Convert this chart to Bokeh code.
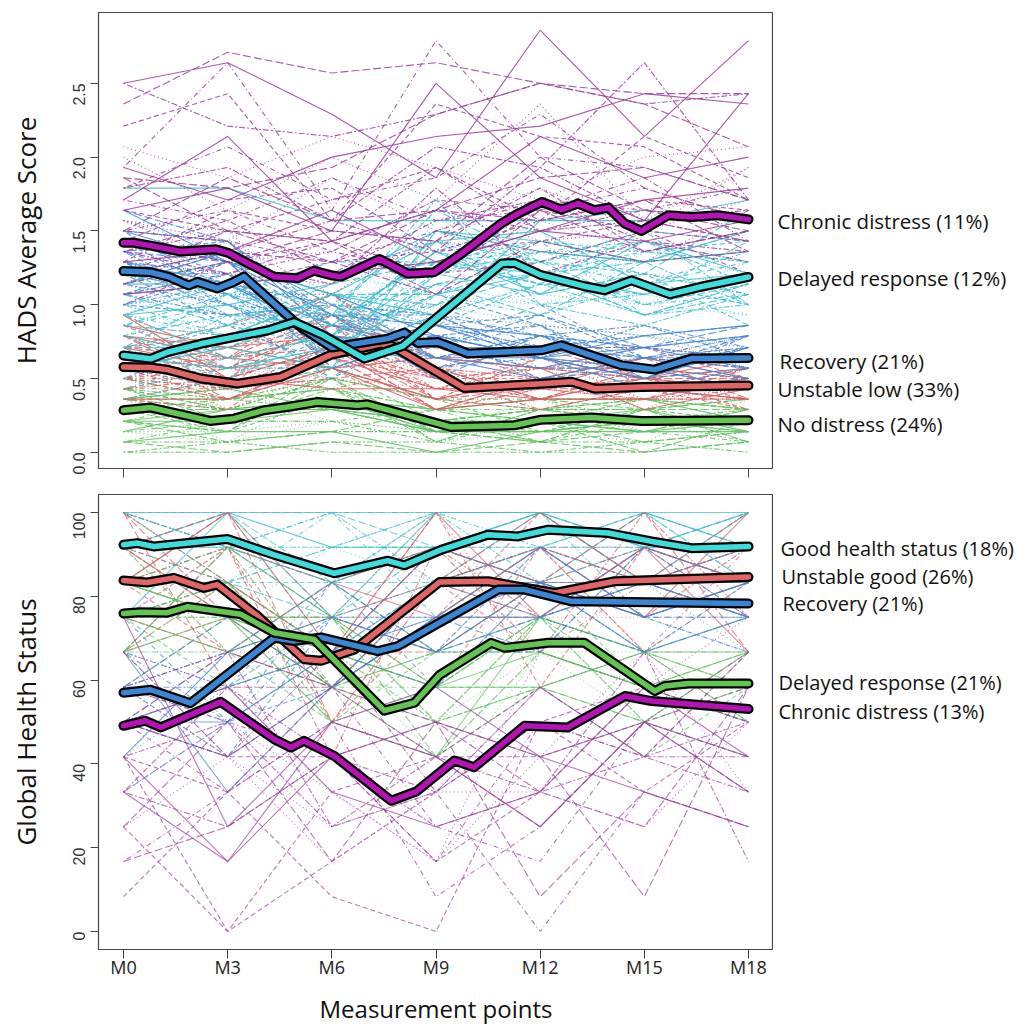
import math
from bokeh.plotting import figure
from bokeh.models import Range1d, FixedTicker, PrintfTickFormatter
from bokeh.layouts import column, row
from bokeh.core.properties import value
from bokeh.embed import file_html
from bokeh.resources import INLINE

# ---------------- data ----------------
months = [0, 3, 6, 9, 12, 15, 18]
month_labels = ["M0", "M3", "M6", "M9", "M12", "M15", "M18"]

hads_ticks = [0.0, 0.5, 1.0, 1.5, 2.0, 2.5]
ghs_ticks = [0, 20, 40, 60, 80, 100]

# HADS individual trajectories (values at M0..M18) by trajectory group
hads_chronic_ind = [
    [2.36, 2.71, 2.57, 2.64, 2.50, 2.43, 2.43],
    [2.50, 2.21, 2.14, 2.29, 2.50, 2.36, 2.43],
    [2.50, 2.64, 2.29, 1.86, 2.86, 2.14, 2.79],
    [2.21, 2.43, 1.57, 2.36, 2.14, 2.07, 1.71],
    [2.00, 1.64, 2.00, 1.71, 2.36, 1.57, 1.93],
    [1.93, 2.64, 1.64, 2.79, 2.00, 1.93, 1.71],
    [1.86, 1.79, 1.93, 2.29, 2.50, 2.36, 2.07],
    [1.79, 1.93, 1.57, 2.07, 1.93, 2.64, 1.71],
    [1.71, 2.14, 1.43, 1.64, 2.14, 1.86, 2.00],
    [1.64, 1.50, 1.71, 1.93, 1.57, 1.71, 1.64],
    [1.57, 1.43, 1.86, 1.50, 1.79, 1.50, 1.93],
    [1.50, 1.64, 1.36, 1.71, 1.64, 1.79, 1.57],
    [1.43, 1.29, 1.50, 1.43, 2.00, 1.64, 1.50],
    [1.36, 1.57, 1.21, 1.57, 1.71, 1.43, 1.36],
    [1.29, 1.36, 1.64, 1.29, 1.50, 1.71, 1.79],
    [1.21, 1.14, 1.29, 1.36, 1.43, 1.57, 1.43],
    [1.14, 1.43, 1.07, 1.50, 1.36, 1.29, 1.64],
    [1.07, 1.21, 1.36, 1.21, 1.29, 1.50, 1.21],
    [1.86, 1.50, 1.43, 1.07, 1.64, 1.36, 1.50],
    [1.00, 1.29, 1.14, 1.79, 1.21, 1.43, 1.29],
    [1.64, 1.79, 1.50, 2.50, 1.86, 1.57, 2.43],
    [1.43, 1.71, 1.79, 1.36, 1.57, 2.14, 1.86],
    [2.07, 1.86, 2.14, 1.93, 1.71, 2.00, 2.07],
    [1.79, 2.07, 1.71, 1.86, 2.29, 1.79, 1.57],
    [1.50, 1.86, 1.57, 1.64, 1.86, 1.93, 1.71],
    [1.36, 1.50, 1.43, 1.93, 1.50, 1.64, 1.57],
    [1.93, 1.71, 2.00, 2.14, 2.21, 2.43, 2.36],
    [1.29, 1.64, 1.50, 1.43, 1.79, 1.36, 1.50],
    [1.57, 1.29, 1.36, 1.71, 1.43, 1.50, 1.71],
    [1.71, 1.57, 1.86, 1.57, 1.64, 1.86, 1.43],
    [1.21, 1.50, 1.29, 1.64, 1.57, 1.71, 1.36],
    [1.43, 1.36, 1.57, 1.36, 1.93, 1.57, 1.64],
    [1.07, 1.14, 1.21, 1.29, 1.50, 1.43, 1.57],
    [1.14, 1.29, 1.43, 1.21, 1.64, 1.50, 1.43],
    [1.29, 1.21, 1.14, 1.43, 1.36, 1.36, 1.50],
    [1.50, 1.43, 1.29, 1.50, 1.71, 1.64, 1.79],
    [1.21, 1.36, 1.29, 1.07, 1.43, 1.29, 1.36],
    [1.36, 1.21, 1.43, 1.64, 1.50, 1.57, 1.43],
]
hads_delayed_ind = [
    [1.79, 1.79, 1.57, 1.57, 1.57, 1.57, 1.71],
    [0.71, 0.86, 0.93, 1.29, 1.43, 1.36, 1.29],
    [0.57, 0.43, 0.64, 1.14, 1.00, 1.21, 1.14],
    [0.86, 1.00, 0.79, 1.43, 1.29, 1.14, 1.36],
    [0.50, 0.79, 1.07, 1.00, 1.21, 0.93, 1.07],
    [0.79, 0.57, 0.57, 1.21, 1.36, 1.29, 1.00],
    [0.93, 1.14, 0.86, 1.36, 1.07, 1.43, 1.21],
    [0.64, 0.71, 1.00, 0.86, 1.14, 1.07, 1.43],
    [1.00, 0.93, 0.71, 1.57, 1.50, 1.00, 0.93],
    [0.43, 0.64, 0.50, 1.07, 0.93, 1.14, 1.29],
    [1.07, 0.86, 1.14, 1.29, 1.21, 1.29, 1.50],
    [0.71, 1.07, 0.93, 1.71, 1.00, 0.86, 1.07],
    [1.14, 1.29, 1.07, 0.93, 1.57, 1.64, 1.57],
    [0.36, 0.50, 0.79, 1.14, 1.29, 1.21, 0.86],
    [0.86, 0.64, 0.43, 1.00, 0.86, 1.36, 1.21],
    [0.93, 0.79, 0.64, 1.21, 1.43, 0.93, 1.14],
    [1.29, 1.14, 1.21, 1.43, 1.07, 1.21, 1.64],
    [0.57, 0.93, 0.86, 1.36, 1.14, 1.50, 1.00],
    [0.64, 0.57, 0.71, 1.07, 1.21, 1.07, 1.21],
    [0.79, 0.93, 1.00, 1.50, 1.29, 1.43, 1.14],
    [0.50, 0.64, 0.57, 1.21, 1.07, 1.00, 1.29],
    [1.00, 0.79, 0.86, 1.29, 1.36, 1.21, 1.07],
    [0.71, 0.71, 0.93, 1.14, 0.93, 1.29, 1.36],
    [0.86, 1.07, 0.64, 0.93, 1.14, 0.93, 1.00],
    [0.57, 0.79, 1.07, 1.43, 1.50, 1.14, 1.21],
    [1.21, 1.00, 0.79, 1.36, 1.21, 1.36, 1.43],
    [0.93, 0.86, 1.21, 1.07, 1.00, 1.07, 0.93],
    [0.43, 0.57, 0.71, 1.00, 1.36, 1.43, 1.29],
    [1.07, 1.21, 0.93, 1.64, 1.29, 1.00, 1.14],
    [0.79, 0.64, 0.79, 1.21, 1.07, 1.21, 1.07],
    [0.93, 1.00, 1.14, 1.50, 1.43, 1.29, 1.36],
    [0.64, 0.86, 0.71, 1.29, 1.14, 1.14, 1.00],
    [1.14, 0.93, 1.00, 1.21, 1.57, 1.36, 1.29],
    [0.71, 0.50, 0.86, 1.36, 1.00, 1.07, 1.21],
    [0.86, 0.79, 1.07, 1.07, 1.29, 1.50, 1.43],
    [1.00, 1.14, 0.71, 1.14, 1.21, 0.93, 1.14],
    [0.57, 0.71, 0.57, 1.50, 1.36, 1.29, 1.50],
    [1.21, 1.07, 1.29, 1.29, 1.14, 1.14, 1.00],
    [0.79, 1.00, 0.93, 1.00, 1.07, 1.36, 1.29],
    [0.93, 0.64, 0.79, 1.43, 1.21, 1.00, 1.07],
]
hads_recovery_ind = [
    [1.64, 1.29, 0.71, 0.86, 0.64, 0.50, 0.71],
    [1.36, 1.43, 0.86, 0.64, 0.79, 0.71, 0.57],
    [1.07, 1.14, 0.64, 0.93, 0.57, 0.64, 0.79],
    [1.29, 1.00, 0.93, 0.71, 0.86, 0.43, 0.50],
    [1.21, 1.21, 0.57, 0.79, 0.50, 0.57, 0.64],
    [1.43, 1.07, 0.79, 0.57, 0.71, 0.79, 0.86],
    [1.14, 1.36, 1.00, 0.64, 0.64, 0.57, 0.43],
    [1.00, 0.93, 0.50, 0.86, 0.93, 0.64, 0.57],
    [1.57, 1.50, 0.86, 0.71, 0.57, 0.50, 0.71],
    [1.29, 1.21, 0.71, 0.79, 0.71, 0.71, 0.64],
    [1.07, 1.29, 0.93, 0.50, 0.79, 0.57, 0.79],
    [1.36, 1.00, 0.64, 0.93, 0.64, 0.43, 0.57],
    [1.14, 1.14, 0.79, 0.64, 0.50, 0.64, 0.50],
    [1.21, 0.86, 0.57, 0.79, 0.86, 0.50, 0.71],
    [0.93, 1.21, 0.86, 0.71, 0.57, 0.71, 0.64],
    [1.50, 1.07, 0.71, 0.57, 0.79, 0.57, 0.50],
    [1.43, 1.29, 0.93, 0.86, 0.71, 0.64, 0.64],
    [1.14, 1.00, 0.71, 0.64, 0.79, 0.50, 0.57],
    [1.29, 1.14, 0.86, 0.79, 0.64, 0.71, 0.79],
    [1.00, 1.21, 0.64, 0.71, 0.57, 0.57, 0.71],
    [1.57, 1.36, 1.00, 0.93, 0.86, 0.79, 0.64],
    [1.21, 1.07, 0.79, 0.57, 0.64, 0.43, 0.50],
    [1.36, 1.29, 0.71, 0.86, 0.79, 0.64, 0.71],
    [1.07, 0.93, 0.93, 0.64, 0.57, 0.71, 0.57],
    [1.50, 1.43, 0.79, 0.71, 0.71, 0.57, 0.64],
    [1.14, 1.36, 0.57, 0.79, 0.64, 0.50, 0.79],
    [1.29, 1.07, 1.07, 0.79, 0.86, 0.79, 0.71],
    [1.43, 1.21, 0.86, 1.00, 0.71, 0.64, 0.57],
    [1.07, 1.14, 1.00, 0.71, 0.93, 0.71, 0.79],
    [1.21, 1.36, 0.93, 0.93, 0.79, 0.86, 0.64],
    [1.50, 1.29, 1.07, 0.79, 0.64, 0.79, 0.86],
    [1.36, 1.14, 0.79, 1.07, 0.86, 0.57, 0.71],
    [1.00, 1.07, 1.07, 0.86, 0.71, 0.79, 0.57],
    [1.14, 1.29, 0.86, 0.71, 1.00, 0.64, 0.79],
    [1.64, 1.43, 0.93, 0.86, 0.79, 0.71, 0.86],
    [1.29, 0.93, 1.00, 0.93, 0.64, 0.86, 0.71],
]
hads_unstable_ind = [
    [0.79, 0.64, 0.57, 0.36, 0.50, 0.43, 0.36],
    [0.57, 0.43, 0.71, 0.50, 0.36, 0.57, 0.50],
    [0.64, 0.50, 0.86, 0.43, 0.57, 0.36, 0.43],
    [0.50, 0.57, 0.43, 0.57, 0.43, 0.50, 0.57],
    [0.71, 0.36, 0.64, 0.29, 0.50, 0.64, 0.36],
    [0.43, 0.50, 0.93, 0.50, 0.29, 0.43, 0.50],
    [0.86, 0.71, 0.57, 0.64, 0.57, 0.29, 0.43],
    [0.36, 0.29, 0.79, 0.36, 0.64, 0.50, 0.29],
    [0.64, 0.57, 0.50, 0.43, 0.43, 0.57, 0.64],
    [0.50, 0.43, 1.00, 0.57, 0.36, 0.36, 0.57],
    [0.71, 0.64, 0.71, 0.29, 0.50, 0.43, 0.36],
    [0.57, 0.36, 0.64, 0.50, 0.57, 0.50, 0.43],
    [0.93, 0.50, 0.43, 0.43, 0.43, 0.64, 0.50],
    [0.43, 0.57, 0.86, 0.36, 0.29, 0.43, 0.29],
    [0.64, 0.29, 0.57, 0.64, 0.50, 0.29, 0.57],
    [0.50, 0.64, 0.79, 0.43, 0.64, 0.57, 0.43],
    [0.79, 0.43, 0.50, 0.57, 0.36, 0.50, 0.50],
    [0.36, 0.50, 0.71, 0.29, 0.43, 0.36, 0.36],
    [0.71, 0.57, 0.64, 0.43, 0.36, 0.50, 0.43],
    [0.50, 0.36, 0.57, 0.36, 0.50, 0.43, 0.50],
    [0.64, 0.64, 0.79, 0.50, 0.43, 0.36, 0.36],
    [0.43, 0.43, 0.64, 0.43, 0.57, 0.50, 0.43],
    [0.79, 0.50, 0.71, 0.36, 0.43, 0.43, 0.57],
    [0.57, 0.71, 0.93, 0.57, 0.36, 0.57, 0.43],
    [0.36, 0.36, 0.57, 0.29, 0.36, 0.36, 0.50],
    [0.86, 0.57, 0.86, 0.50, 0.50, 0.43, 0.36],
    [0.64, 0.43, 0.50, 0.36, 0.64, 0.36, 0.43],
    [0.50, 0.50, 0.71, 0.43, 0.43, 0.50, 0.36],
    [0.71, 0.79, 0.86, 0.64, 0.57, 0.57, 0.50],
    [0.57, 0.64, 1.07, 0.57, 0.50, 0.64, 0.57],
    [0.79, 0.71, 0.79, 0.71, 0.64, 0.50, 0.64],
    [0.64, 0.57, 0.93, 0.64, 0.71, 0.71, 0.50],
    [0.86, 0.79, 0.71, 0.50, 0.57, 0.64, 0.71],
    [0.50, 0.71, 0.86, 0.71, 0.50, 0.57, 0.64],
    [0.93, 0.64, 0.93, 0.57, 0.71, 0.50, 0.57],
    [0.71, 0.86, 1.07, 0.64, 0.57, 0.71, 0.64],
]
hads_nodistress_ind = [
    [0.29, 0.21, 0.36, 0.14, 0.21, 0.21, 0.14],
    [0.43, 0.29, 0.29, 0.21, 0.14, 0.29, 0.21],
    [0.14, 0.07, 0.43, 0.07, 0.29, 0.14, 0.29],
    [0.36, 0.21, 0.21, 0.29, 0.07, 0.21, 0.21],
    [0.21, 0.14, 0.50, 0.14, 0.21, 0.07, 0.14],
    [0.50, 0.36, 0.29, 0.21, 0.29, 0.29, 0.07],
    [0.07, 0.14, 0.14, 0.00, 0.14, 0.14, 0.21],
    [0.29, 0.29, 0.36, 0.29, 0.21, 0.36, 0.29],
    [0.36, 0.07, 0.21, 0.14, 0.14, 0.07, 0.36],
    [0.21, 0.36, 0.43, 0.07, 0.29, 0.21, 0.07],
    [0.43, 0.21, 0.36, 0.21, 0.07, 0.29, 0.29],
    [0.00, 0.00, 0.07, 0.07, 0.00, 0.07, 0.00],
    [0.14, 0.29, 0.29, 0.14, 0.21, 0.14, 0.14],
    [0.29, 0.14, 0.57, 0.36, 0.14, 0.21, 0.21],
    [0.50, 0.43, 0.21, 0.14, 0.36, 0.14, 0.14],
    [0.07, 0.21, 0.36, 0.21, 0.07, 0.29, 0.07],
    [0.21, 0.07, 0.14, 0.29, 0.21, 0.00, 0.21],
    [0.36, 0.29, 0.50, 0.07, 0.29, 0.36, 0.29],
    [0.21, 0.21, 0.29, 0.14, 0.14, 0.21, 0.21],
    [0.36, 0.36, 0.43, 0.21, 0.21, 0.14, 0.29],
    [0.14, 0.14, 0.21, 0.07, 0.14, 0.21, 0.14],
    [0.43, 0.29, 0.36, 0.29, 0.29, 0.21, 0.21],
    [0.29, 0.21, 0.43, 0.14, 0.07, 0.14, 0.29],
    [0.07, 0.07, 0.14, 0.14, 0.07, 0.07, 0.14],
    [0.36, 0.43, 0.29, 0.21, 0.21, 0.29, 0.14],
    [0.21, 0.14, 0.36, 0.21, 0.29, 0.21, 0.21],
    [0.50, 0.29, 0.50, 0.14, 0.14, 0.21, 0.29],
    [0.14, 0.21, 0.21, 0.07, 0.21, 0.14, 0.07],
    [0.29, 0.36, 0.43, 0.29, 0.36, 0.29, 0.36],
    [0.43, 0.36, 0.50, 0.36, 0.29, 0.36, 0.29],
    [0.21, 0.29, 0.36, 0.29, 0.36, 0.36, 0.21],
    [0.36, 0.43, 0.57, 0.21, 0.29, 0.29, 0.36],
    [0.50, 0.43, 0.43, 0.29, 0.21, 0.36, 0.36],
    [0.29, 0.29, 0.50, 0.36, 0.36, 0.21, 0.29],
    [0.07, 0.00, 0.07, 0.00, 0.07, 0.00, 0.07],
    [0.00, 0.07, 0.00, 0.00, 0.00, 0.00, 0.07],
]

# HADS group mean trajectories (month, value)
hads_chronic_m = [0, 0.3, 0.78, 1.65, 2.66, 3.03, 3.67, 4.33, 5.02, 5.48, 5.97, 6.26, 7.37, 8.19, 8.95, 9.73, 10.88, 11.36, 12.05, 12.61, 13.09, 13.57, 13.96, 14.44, 14.92, 15.69, 16.36, 17.13, 18]
hads_chronic_v = [1.42, 1.42, 1.40, 1.36, 1.375, 1.35, 1.27, 1.19, 1.18, 1.23, 1.20, 1.19, 1.31, 1.21, 1.22, 1.345, 1.55, 1.617, 1.696, 1.644, 1.685, 1.64, 1.658, 1.549, 1.50, 1.606, 1.594, 1.606, 1.578]
hads_delayed_m = [0, 0.78, 1.26, 2.22, 3.18, 4.14, 4.91, 5.69, 6.94, 8.04, 10.9, 11.26, 12.03, 13.28, 13.86, 14.63, 15.74, 16.6, 18]
hads_delayed_v = [0.656, 0.633, 0.678, 0.735, 0.78, 0.825, 0.882, 0.80, 0.635, 0.72, 1.28, 1.283, 1.20, 1.125, 1.098, 1.165, 1.07, 1.12, 1.188]
hads_recovery_m = [0, 0.78, 1.31, 1.88, 2.13, 2.7, 3.18, 3.47, 4.34, 5.1, 6.0, 7.61, 8.09, 8.48, 9.05, 9.92, 12.03, 12.61, 14.34, 15.3, 16.36, 18]
hads_recovery_v = [1.228, 1.22, 1.188, 1.13, 1.155, 1.11, 1.155, 1.19, 1.007, 0.849, 0.71, 0.77, 0.811, 0.741, 0.747, 0.669, 0.691, 0.725, 0.589, 0.56, 0.635, 0.639]
hads_unstable_m = [0, 0.78, 1.26, 2.22, 3.28, 4.53, 5.97, 7.42, 7.7, 9.82, 12.03, 12.9, 13.57, 14.92, 18]
hads_unstable_v = [0.578, 0.574, 0.56, 0.50, 0.465, 0.51, 0.66, 0.735, 0.725, 0.435, 0.465, 0.478, 0.431, 0.442, 0.452]
hads_nodistress_m = [0, 0.78, 2.5, 3.18, 4.05, 4.72, 5.59, 6.74, 7.03, 9.44, 11.26, 12.03, 13.48, 14.92, 18]
hads_nodistress_v = [0.285, 0.303, 0.212, 0.228, 0.285, 0.307, 0.341, 0.318, 0.325, 0.171, 0.183, 0.221, 0.235, 0.212, 0.217]

# GHS individual trajectories
ghs_good_ind = [
    [100, 100, 100, 100, 100, 100, 100],
    [100, 91.7, 83.3, 91.7, 100, 91.7, 100],
    [91.7, 100, 91.7, 83.3, 91.7, 100, 91.7],
    [83.3, 91.7, 100, 100, 91.7, 83.3, 91.7],
    [100, 83.3, 75, 91.7, 100, 100, 83.3],
    [91.7, 91.7, 83.3, 100, 83.3, 91.7, 100],
    [75, 100, 91.7, 91.7, 100, 83.3, 83.3],
    [100, 100, 66.7, 83.3, 91.7, 100, 91.7],
    [83.3, 75, 91.7, 100, 100, 91.7, 75],
    [91.7, 83.3, 100, 75, 91.7, 91.7, 100],
    [66.7, 91.7, 83.3, 91.7, 83.3, 100, 91.7],
    [100, 91.7, 91.7, 100, 100, 75, 83.3],
    [91.7, 100, 75, 83.3, 100, 91.7, 91.7],
    [83.3, 83.3, 83.3, 91.7, 91.7, 83.3, 100],
    [100, 100, 91.7, 100, 91.7, 100, 100],
    [91.7, 83.3, 91.7, 91.7, 100, 91.7, 83.3],
    [83.3, 100, 83.3, 83.3, 91.7, 91.7, 91.7],
    [100, 91.7, 100, 83.3, 83.3, 100, 91.7],
    [91.7, 91.7, 75, 100, 100, 83.3, 100],
    [75, 83.3, 91.7, 91.7, 91.7, 100, 83.3],
    [100, 91.7, 91.7, 91.7, 100, 100, 91.7],
    [83.3, 91.7, 83.3, 100, 100, 91.7, 91.7],
    [91.7, 100, 100, 91.7, 83.3, 91.7, 100],
]
ghs_unstable_ind = [
    [100, 83.3, 58.3, 83.3, 75, 91.7, 83.3],
    [83.3, 100, 66.7, 91.7, 83.3, 75, 100],
    [75, 91.7, 50, 75, 100, 83.3, 75],
    [91.7, 66.7, 75, 100, 66.7, 91.7, 83.3],
    [66.7, 83.3, 58.3, 83.3, 91.7, 66.7, 91.7],
    [100, 75, 66.7, 66.7, 83.3, 100, 66.7],
    [83.3, 91.7, 41.7, 91.7, 75, 83.3, 91.7],
    [75, 66.7, 83.3, 75, 91.7, 75, 83.3],
    [91.7, 83.3, 66.7, 100, 58.3, 91.7, 75],
    [58.3, 75, 50, 83.3, 83.3, 83.3, 100],
    [83.3, 100, 75, 58.3, 91.7, 66.7, 83.3],
    [100, 58.3, 58.3, 83.3, 100, 83.3, 91.7],
    [66.7, 91.7, 83.3, 91.7, 66.7, 100, 75],
    [91.7, 75, 58.3, 75, 75, 91.7, 66.7],
    [83.3, 66.7, 58.3, 75, 91.7, 83.3, 83.3],
    [100, 91.7, 75, 83.3, 75, 75, 91.7],
    [75, 83.3, 66.7, 91.7, 83.3, 91.7, 83.3],
    [91.7, 100, 50, 83.3, 91.7, 83.3, 75],
    [66.7, 75, 75, 66.7, 83.3, 75, 91.7],
    [83.3, 83.3, 66.7, 100, 75, 91.7, 83.3],
    [91.7, 75, 66.7, 91.7, 83.3, 83.3, 91.7],
    [75, 91.7, 58.3, 66.7, 91.7, 91.7, 83.3],
    [83.3, 75, 75, 83.3, 66.7, 83.3, 100],
]
ghs_delayed_ind = [
    [83.3, 75, 58.3, 41.7, 66.7, 58.3, 58.3],
    [75, 83.3, 66.7, 50, 75, 50, 66.7],
    [66.7, 75, 75, 58.3, 58.3, 66.7, 50],
    [91.7, 66.7, 50, 66.7, 83.3, 58.3, 58.3],
    [75, 83.3, 66.7, 33.3, 66.7, 50, 66.7],
    [83.3, 91.7, 58.3, 58.3, 75, 66.7, 75],
    [58.3, 75, 75, 50, 58.3, 50, 58.3],
    [66.7, 66.7, 83.3, 66.7, 66.7, 58.3, 50],
    [83.3, 75, 50, 41.7, 75, 66.7, 66.7],
    [75, 58.3, 66.7, 58.3, 58.3, 41.7, 58.3],
    [100, 83.3, 58.3, 50, 66.7, 58.3, 50],
    [75, 75, 58.3, 66.7, 75, 66.7, 66.7],
    [66.7, 91.7, 75, 41.7, 58.3, 50, 41.7],
    [75, 66.7, 58.3, 50, 58.3, 66.7, 58.3],
    [83.3, 75, 66.7, 58.3, 66.7, 58.3, 66.7],
    [66.7, 83.3, 50, 58.3, 75, 58.3, 50],
    [91.7, 75, 66.7, 41.7, 66.7, 66.7, 58.3],
    [75, 66.7, 75, 50, 75, 50, 66.7],
    [83.3, 83.3, 58.3, 66.7, 66.7, 58.3, 66.7],
    [75, 75, 66.7, 58.3, 75, 66.7, 58.3],
]
ghs_recovery_ind = [
    [41.7, 66.7, 75, 66.7, 83.3, 83.3, 75],
    [58.3, 50, 58.3, 75, 75, 66.7, 83.3],
    [66.7, 41.7, 66.7, 83.3, 91.7, 75, 66.7],
    [50, 58.3, 83.3, 66.7, 66.7, 91.7, 83.3],
    [33.3, 50, 66.7, 58.3, 83.3, 75, 75],
    [58.3, 66.7, 75, 75, 75, 83.3, 91.7],
    [66.7, 33.3, 58.3, 83.3, 83.3, 66.7, 75],
    [50, 58.3, 75, 66.7, 91.7, 75, 66.7],
    [41.7, 66.7, 66.7, 75, 75, 83.3, 83.3],
    [75, 50, 83.3, 58.3, 83.3, 75, 75],
    [58.3, 75, 58.3, 75, 66.7, 91.7, 83.3],
    [66.7, 58.3, 66.7, 91.7, 83.3, 66.7, 75],
    [50, 50, 66.7, 75, 83.3, 75, 83.3],
    [58.3, 41.7, 75, 66.7, 75, 83.3, 75],
    [41.7, 58.3, 58.3, 83.3, 91.7, 83.3, 66.7],
    [66.7, 50, 75, 75, 83.3, 75, 83.3],
    [50, 66.7, 83.3, 66.7, 75, 91.7, 75],
    [58.3, 58.3, 66.7, 83.3, 75, 83.3, 75],
    [50, 41.7, 58.3, 75, 91.7, 75, 83.3],
]
ghs_chronic_ind = [
    [25, 0, 16.7, 33.3, 50, 58.3, 50],
    [33.3, 50, 33.3, 16.7, 41.7, 66.7, 33.3],
    [50, 33.3, 58.3, 25, 16.7, 50, 66.7],
    [16.7, 25, 41.7, 50, 33.3, 25, 58.3],
    [58.3, 66.7, 25, 33.3, 58.3, 41.7, 33.3],
    [41.7, 16.7, 50, 41.7, 25, 50, 41.7],
    [8.3, 33.3, 8.3, 0, 50, 33.3, 50],
    [66.7, 58.3, 33.3, 16.7, 66.7, 58.3, 75],
    [50, 41.7, 66.7, 33.3, 0, 33.3, 25],
    [25, 50, 16.7, 50, 41.7, 8.3, 58.3],
    [33.3, 58.3, 41.7, 25, 33.3, 66.7, 16.7],
    [75, 25, 50, 58.3, 41.7, 50, 33.3],
    [41.7, 0, 33.3, 41.7, 58.3, 41.7, 66.7],
    [58.3, 41.7, 16.7, 33.3, 33.3, 25, 50],
    [16.7, 33.3, 50, 8.3, 25, 50, 41.7],
    [50, 66.7, 58.3, 50, 8.3, 33.3, 25],
    [33.3, 25, 41.7, 33.3, 50, 41.7, 50],
    [50, 58.3, 33.3, 25, 33.3, 58.3, 41.7],
    [41.7, 33.3, 50, 41.7, 41.7, 50, 58.3],
    [25, 41.7, 25, 33.3, 58.3, 66.7, 50],
    [58.3, 50, 41.7, 16.7, 50, 41.7, 66.7],
    [66.7, 41.7, 58.3, 41.7, 25, 50, 33.3],
    [41.7, 50, 25, 41.7, 33.3, 41.7, 41.7],
    [33.3, 16.7, 41.7, 50, 41.7, 33.3, 25],
    [50, 41.7, 41.7, 16.7, 33.3, 58.3, 50],
]

# GHS group mean trajectories
ghs_good_m = [0, 0.4, 0.87, 2.99, 4.34, 6.07, 7.61, 8.09, 9.15, 10.5, 11.36, 12.23, 13.96, 15.21, 16.36, 18]
ghs_good_v = [92.3, 92.7, 91.9, 93.7, 89.9, 85.5, 88.5, 87.4, 91.1, 94.7, 94.3, 95.9, 95.1, 93.1, 91.5, 91.9]
ghs_unstable_m = [0, 0.68, 1.45, 2.32, 2.7, 3.86, 5.2, 5.69, 6.65, 9.1, 10.5, 12.42, 14.15, 18]
ghs_unstable_v = [83.8, 83.3, 84.4, 82.0, 82.8, 75.3, 65.0, 64.6, 67.3, 83.4, 83.6, 80.8, 83.6, 84.6]
ghs_recovery_m = [0, 0.78, 1.93, 4.34, 4.91, 5.69, 7.32, 7.9, 10.79, 11.55, 12.9, 18]
ghs_recovery_v = [57.0, 57.7, 54.5, 70.1, 69.3, 70.2, 66.9, 68.1, 81.6, 81.6, 78.8, 78.3]
ghs_delayed_m = [0, 0.49, 1.26, 1.84, 3.38, 4.34, 5.49, 7.51, 8.38, 9.1, 10.59, 10.98, 12.23, 13.28, 15.3, 15.59, 16.27, 18]
ghs_delayed_v = [75.9, 76.2, 76.1, 77.5, 75.7, 71.3, 69.7, 52.7, 54.6, 61.2, 68.9, 67.7, 68.9, 68.9, 57.4, 58.6, 59.2, 59.2]
ghs_chronic_m = [0, 0.63, 1.07, 2.8, 4.34, 4.82, 5.2, 6.07, 7.71, 8.43, 9.53, 10.1, 11.55, 12.8, 14.44, 15.21, 18]
ghs_chronic_v = [49.1, 50.3, 48.7, 54.8, 45.9, 43.9, 45.5, 41.9, 31.2, 33.4, 40.8, 39.2, 49.1, 48.7, 56.2, 55.0, 53.1]

hads_groups = ["Chronic distress (11%)", "Delayed response (12%)", "Recovery (21%)",
               "Unstable low (33%)", "No distress (24%)"]
ghs_groups = ["Good health status (18%)", "Unstable good (26%)", "Recovery (21%)",
              "Delayed response (21%)", "Chronic distress (13%)"]

# ---------------- layout / style ----------------
THICK = {"magenta": "#b414b4", "cyan": "#3fdcdc", "blue": "#3a86d2",
         "red": "#e06666", "green": "#64c452"}
THIN = {"magenta": "#9a3f9a", "cyan": "#3ec0d0", "blue": "#4586d2",
        "red": "#d85e62", "green": "#5fc25f"}
DASHES = ["solid", "5 3", "1 3", "1 3 5 3", "8 3", "2 2 6 2"]
X_RANGE = (-0.72, 18.72)
LEFT_W = 773      # canvas width of a panel (frame 98..773)
LABEL_W = 244     # width of the label column to the right

# label placement in page pixels (x start, y centre)
hads_label_pos = [(777, 220), (777, 277), (779, 360), (777, 388), (777, 423)]
ghs_label_pos = [(780, 548), (781, 576), (782, 603), (778, 683), (778, 712)]


def style_axes(p, show_x_labels):
    p.outline_line_color = "#444444"
    p.outline_line_width = 1.2
    p.xgrid.visible = False
    p.ygrid.visible = False
    p.background_fill_color = "white"
    p.border_fill_color = "white"
    for ax in (p.xaxis[0], p.yaxis[0]):
        ax.axis_line_color = None
        ax.minor_tick_line_color = None
        ax.major_tick_line_color = "#444444"
        ax.major_tick_in = 0
    xa = p.xaxis[0]
    xa.ticker = FixedTicker(ticks=months)
    xa.major_tick_out = 9
    if show_x_labels:
        xa.major_label_overrides = {m: l for m, l in zip(months, month_labels)}
        xa.major_label_text_font = "Open Sans"
        xa.major_label_text_font_size = "18px"
        xa.major_label_text_color = "#222222"
        xa.major_label_standoff = -4
        xa.axis_label = "Measurement points"
        xa.axis_label_text_font = "Open Sans"
        xa.axis_label_text_font_size = "24px"
        xa.axis_label_text_font_style = "normal"
        xa.axis_label_text_color = "#111111"
        xa.axis_label_standoff = 10
    else:
        xa.major_label_overrides = {m: "" for m in months}
        xa.major_label_text_font_size = "1px"
        xa.major_label_standoff = 0
    ya = p.yaxis[0]
    ya.major_tick_out = 8
    ya.major_label_orientation = math.pi / 2
    ya.major_label_text_font = "Liberation Sans"
    ya.major_label_text_font_size = "16px"
    ya.major_label_text_color = "#333333"
    ya.major_label_standoff = 11
    ya.axis_label_text_font = "Open Sans"
    ya.axis_label_text_font_size = "26px"
    ya.axis_label_text_font_style = "normal"
    ya.axis_label_text_color = "#111111"
    ya.axis_label_standoff = 21


def draw_individuals(p, groups, alpha):
    k = 0
    for rows, col in groups:
        for r in rows:
            p.line(months, r, line_color=THIN[col], line_width=1.1, line_alpha=alpha,
                   line_dash=DASHES[k % len(DASHES)])
            k += 1


def draw_mean(p, m, v, col):
    p.line(m, v, line_color="black", line_width=10, line_join="round", line_cap="round")
    p.line(m, v, line_color=THICK[col], line_width=5.5, line_join="round", line_cap="round")


def label_panel(height, top_b, bot_b, y0, y1, texts, pos, size):
    lp = figure(width=LABEL_W, height=height, output_backend="svg", toolbar_location=None,
                x_range=Range1d(LEFT_W, LEFT_W + LABEL_W), y_range=Range1d(y1, y0),
                x_axis_type=None, y_axis_type=None,
                min_border_left=0, min_border_right=0,
                min_border_top=top_b, min_border_bottom=bot_b)
    lp.outline_line_color = None
    lp.xgrid.visible = False
    lp.ygrid.visible = False
    lp.text(x=[q[0] for q in pos], y=[q[1] for q in pos], text=texts,
            text_font=value("Open Sans"), text_font_size=size, text_color="#111111",
            text_align="left", text_baseline="middle")
    return lp


# ---------------- top panel ----------------
TOP_H, TOP_T, TOP_B = 488, 12, 20
top = figure(width=LEFT_W, height=TOP_H, output_backend="svg", toolbar_location=None,
             x_range=Range1d(*X_RANGE), y_range=Range1d(-0.11, 2.98),
             min_border_left=98, min_border_right=0, min_border_top=TOP_T, min_border_bottom=TOP_B)
style_axes(top, False)
top.yaxis[0].axis_label = "HADS Average Score"
top.yaxis[0].ticker = FixedTicker(ticks=hads_ticks)
top.yaxis[0].formatter = PrintfTickFormatter(format="%.1f")

draw_individuals(top, [(hads_nodistress_ind, "green"), (hads_unstable_ind, "red"),
                       (hads_recovery_ind, "blue"), (hads_delayed_ind, "cyan"),
                       (hads_chronic_ind, "magenta")], 0.85)
draw_mean(top, hads_nodistress_m, hads_nodistress_v, "green")
draw_mean(top, hads_unstable_m, hads_unstable_v, "red")
draw_mean(top, hads_recovery_m, hads_recovery_v, "blue")
draw_mean(top, hads_delayed_m, hads_delayed_v, "cyan")
draw_mean(top, hads_chronic_m, hads_chronic_v, "magenta")

top_lbl = label_panel(TOP_H, TOP_T, TOP_B, TOP_T, TOP_H - TOP_B, hads_groups,
                      hads_label_pos, "20.5px")

# ---------------- bottom panel ----------------
BOT_H, BOT_T, BOT_B = 539, 6, 76
bot = figure(width=LEFT_W, height=BOT_H, output_backend="svg", toolbar_location=None,
             x_range=Range1d(*X_RANGE), y_range=Range1d(-4.3, 104.3),
             min_border_left=98, min_border_right=0, min_border_top=BOT_T, min_border_bottom=BOT_B)
style_axes(bot, True)
bot.yaxis[0].axis_label = "Global Health Status"
bot.yaxis[0].ticker = FixedTicker(ticks=ghs_ticks)

draw_individuals(bot, [(ghs_good_ind, "cyan"), (ghs_unstable_ind, "red"),
                       (ghs_delayed_ind, "green"), (ghs_recovery_ind, "blue"),
                       (ghs_chronic_ind, "magenta")], 0.7)
draw_mean(bot, ghs_good_m, ghs_good_v, "cyan")
draw_mean(bot, ghs_unstable_m, ghs_unstable_v, "red")
draw_mean(bot, ghs_recovery_m, ghs_recovery_v, "blue")
draw_mean(bot, ghs_delayed_m, ghs_delayed_v, "green")
draw_mean(bot, ghs_chronic_m, ghs_chronic_v, "magenta")

bot_lbl = label_panel(BOT_H, BOT_T, BOT_B, TOP_H + BOT_T, TOP_H + BOT_H - BOT_B,
                      ghs_groups, ghs_label_pos, "20px")

layout = column(row(top, top_lbl), row(bot, bot_lbl))
open("out.html", "w").write(file_html(layout, INLINE))
